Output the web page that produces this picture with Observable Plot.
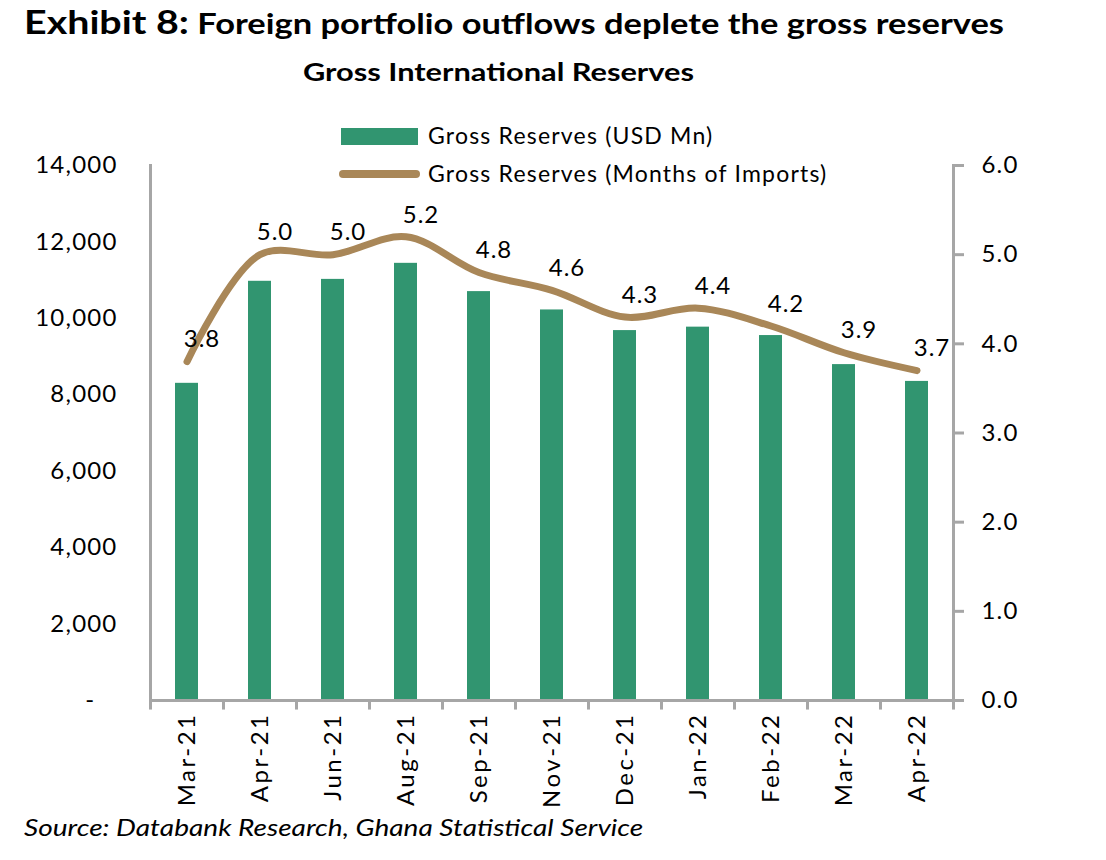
<!DOCTYPE html>
<html>
<head>
<meta charset="utf-8">
<script src="https://cdn.jsdelivr.net/npm/d3@7"></script>
<script src="https://cdn.jsdelivr.net/npm/@observablehq/plot@0.6"></script>
<style>
  html, body { margin: 0; padding: 0; background: #fff; }
  #page { position: relative; width: 1106px; height: 860px; font-family: Lato, "Noto Sans", sans-serif; color: #000; overflow: hidden; }
  .abs { position: absolute; white-space: nowrap; transform-origin: 0 50%; }
  #title { left: 24px; top: 2px; font-weight: 700; font-size: 28px; transform: scaleX(1.23); }
  #title .lead { font-size: 32px; }
  #subtitle { left: 303px; top: 56px; font-weight: 700; font-size: 25px; transform: scaleX(1.23); }
  .legend-text { font-size: 23px; left: 428px; letter-spacing: 1.2px; }
  #source { left: 24px; top: 813px; font-style: italic; font-size: 23px; transform: scaleX(1.22); }
  #chart { position: absolute; left: 0; top: 100px; }
  #chart [aria-label="x-axis tick label"] text { letter-spacing: 2.5px; }
  #chart [aria-label="y-axis tick label"] text { letter-spacing: 1.2px; }
  #chart [aria-label="text"] text { letter-spacing: 1px; }
</style>
</head>
<body>
<div id="page">
  <div id="title" class="abs"><span class="lead">Exhibit 8:</span> Foreign portfolio outflows deplete the gross reserves</div>
  <div id="subtitle" class="abs">Gross International Reserves</div>
  <div class="abs" style="left:341px; top:128px; width:77px; height:17px; background:#319570;"></div>
  <div class="abs legend-text" style="top:121px;">Gross Reserves (USD Mn)</div>
  <div class="abs" style="left:339px; top:170px; width:81px; height:8px; border-radius:4px; background:#A98758;"></div>
  <div class="abs legend-text" style="top:159px;">Gross Reserves (Months of Imports)</div>
  <div id="chart"></div>
  <div id="source" class="abs">Source: Databank Research, Ghana Statistical Service</div>
</div>
<script>
// Monthly gross international reserves
const months = ["Mar-21", "Apr-21", "Jun-21", "Aug-21", "Sep-21", "Nov-21", "Dec-21", "Jan-22", "Feb-22", "Mar-22", "Apr-22"];
const reservesUsdMn = [8300, 10970, 11020, 11440, 10700, 10220, 9680, 9770, 9550, 8790, 8350];
const monthsOfImports = [3.8, 5.0, 5.0, 5.2, 4.8, 4.6, 4.3, 4.4, 4.2, 3.9, 3.7];
const usdTicks = [0, 2000, 4000, 6000, 8000, 10000, 12000, 14000];
const coverTicks = [0, 1, 2, 3, 4, 5, 6];

const green = "#319570";
const brown = "#A98758";
const axisGray = "#A6A6A6";

const data = months.map((m, i) => ({month: m, usd: reservesUsdMn[i], cover: monthsOfImports[i]}));

// The import-cover series shares the USD scale: 6.0 months maps to 14,000
const k = 14000 / 6;

const width = 1106, marginLeft = 150, marginRight = 153;
const step = (width - marginLeft - marginRight) / months.length;

const chart = Plot.plot({
  width,
  height: 720,
  marginTop: 65,
  marginBottom: 120,
  marginLeft,
  marginRight,
  x: {domain: months, paddingInner: 0.685, paddingOuter: 0.3425, label: null},
  y: {domain: [0, 14000], label: null},
  style: {fontFamily: "Lato, 'Noto Sans', sans-serif", fontSize: "24px", color: "#000", background: "transparent"},
  marks: [
    Plot.barY(data, {x: "month", y: "usd", fill: green}),
    Plot.frame({anchor: "left", stroke: axisGray, strokeWidth: 3}),
    Plot.frame({anchor: "right", stroke: axisGray, strokeWidth: 3}),
    Plot.ruleY([0], {stroke: axisGray, strokeWidth: 3}),
    // category tick marks sit between the bars
    Plot.ruleX(months, {x: d => d, dx: -step / 2, y1: 0, y2: -250, stroke: axisGray, strokeWidth: 3}),
    Plot.ruleX(months.slice(-1), {x: d => d, dx: step / 2, y1: 0, y2: -250, stroke: axisGray, strokeWidth: 3}),
    Plot.axisY({
      anchor: "left", ticks: usdTicks, tickSize: 0, tickPadding: 33,
      tickFormat: d => d === 0 ? "-\u00a0\u00a0\u00a0" : d3.format(",")(d), fontSize: 24
    }),
    Plot.axisY({
      anchor: "right", ticks: coverTicks.map(v => v * k), tickSize: 10, tickPadding: 18,
      tickFormat: d => (d / k).toFixed(1), stroke: axisGray, strokeWidth: 3, fill: "#000", fontSize: 24
    }),
    Plot.axisX({tickSize: 0, tickRotate: -90, tickPadding: 12, fontSize: 24, fill: "#000"}),
    Plot.line(data, {x: "month", y: d => d.cover * k, stroke: brown, strokeWidth: 7, curve: "catmull-rom", strokeLinecap: "round"}),
    Plot.text(data, {x: "month", y: d => d.cover * k, text: d => d.cover.toFixed(1), dx: 15, dy: -22, fontSize: 24, fill: "#000"})
  ]
});
document.getElementById("chart").append(chart);
</script>
</body>
</html>
